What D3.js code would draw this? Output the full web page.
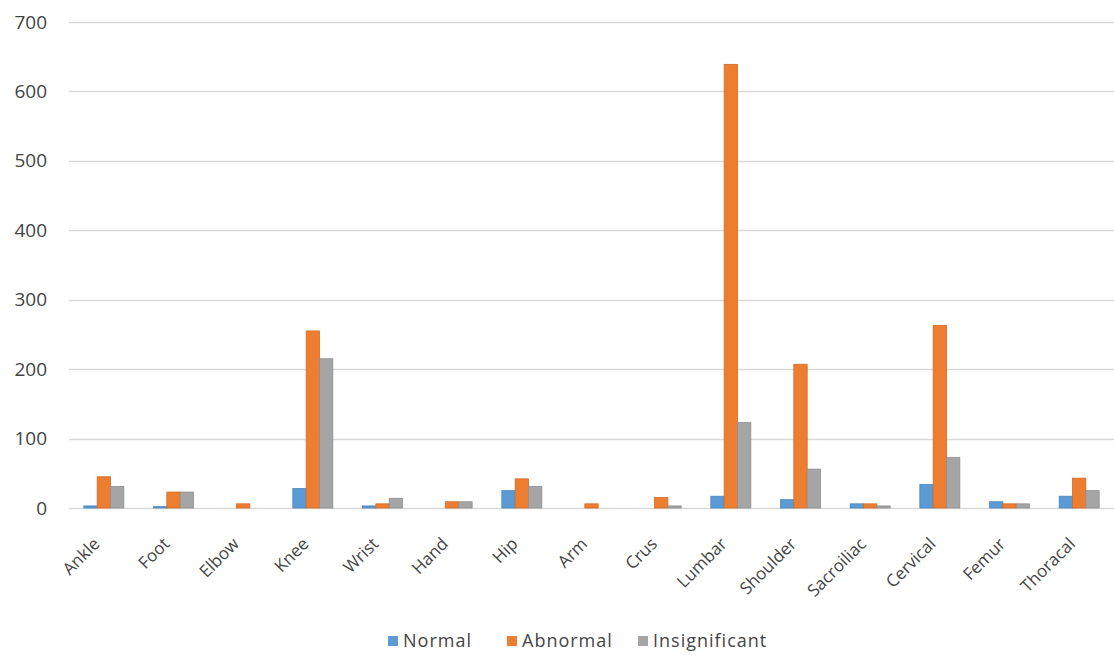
<!DOCTYPE html>
<html>
<head>
<meta charset="utf-8">
<script src="https://cdn.jsdelivr.net/npm/d3@7"></script>
<style>
  html, body { margin: 0; padding: 0; background: #fff; }
  svg { display: block; }
</style>
</head>
<body>
<svg id="chart" width="1114" height="655"></svg>
<script>
// Joint regions and examination counts per outcome
const categories = ["Ankle", "Foot", "Elbow", "Knee", "Wrist", "Hand", "Hip", "Arm", "Crus",
  "Lumbar", "Shoulder", "Sacroiliac", "Cervical", "Femur", "Thoracal"];
const seriesNames = ["Normal", "Abnormal", "Insignificant"];
const normal        = [3, 2, 0, 28, 3, 0, 25, 0, 0, 17, 12, 6, 34, 9, 17];
const abnormal      = [45, 23, 6, 255, 6, 9, 42, 6, 15, 639, 207, 6, 263, 6, 43];
const insignificant = [31, 23, 0, 215, 14, 9, 31, 0, 3, 123, 56, 3, 73, 6, 25];
const yTicks = [0, 100, 200, 300, 400, 500, 600, 700];

const colors = ["#5B9BD5", "#ED7D31", "#A5A5A5"];
const strokes = ["#4a86bd", "#d56a22", "#8f8f8f"];

const seriesValues = [normal, abnormal, insignificant];
const rows = categories.map((c, i) => ({
  category: c,
  values: seriesNames.map((s, k) => ({ key: s, k, value: seriesValues[k][i] }))
}));

const svg = d3.select("#chart");
const plotLeft = 69, plotRight = 1114, plotTop = 22, plotBottom = 508;

const y = d3.scaleLinear().domain([0, 700]).range([plotBottom, plotTop]);
const pad = 0.426;
const x = d3.scaleBand().domain(categories).range([plotLeft, plotRight])
  .paddingInner(pad).paddingOuter(pad / 2);
const xs = d3.scaleBand().domain(seriesNames).range([0, x.bandwidth()]);

// Horizontal gridlines
svg.append("g").selectAll("line").data(yTicks).join("line")
  .attr("x1", plotLeft).attr("x2", plotRight)
  .attr("y1", d => Math.round(y(d)) + 0.5).attr("y2", d => Math.round(y(d)) + 0.5)
  .attr("stroke", "#d9d9d9").attr("stroke-width", 1.3);

// Y axis labels
const yAxis = d3.axisLeft(y).tickValues(yTicks).tickSize(0).tickPadding(0);
const yg = svg.append("g").attr("transform", `translate(47,0)`).call(yAxis);
yg.select(".domain").remove();
yg.selectAll("text")
  .attr("font-family", "'Open Sans', sans-serif")
  .attr("font-size", 19)
  .attr("fill", "#444");

// Bars
const groups = svg.append("g").selectAll("g").data(rows).join("g")
  .attr("transform", d => `translate(${x(d.category)},0)`);
groups.selectAll("rect").data(d => d.values).join("rect")
  .attr("x", d => xs(d.key))
  .attr("width", xs.bandwidth())
  .attr("y", d => y(d.value))
  .attr("height", d => y(0) - y(d.value))
  .attr("fill", d => colors[d.k])
  .attr("stroke", d => strokes[d.k])
  .attr("stroke-width", 0.8);

// Category labels, rotated
const xAxis = d3.axisBottom(x).tickSize(0).tickPadding(0);
const xg = svg.append("g").attr("transform", `translate(0,${plotBottom})`).call(xAxis);
xg.select(".domain").remove();
xg.selectAll("text")
  .attr("font-family", "'Open Sans', sans-serif")
  .attr("font-size", 17)
  .attr("fill", "#444")
  .attr("text-anchor", "end")
  .attr("dy", null)
  .attr("transform", "translate(-3,37) rotate(-45)");

// Legend
const legend = svg.append("g").attr("transform", "translate(388,641)");
const legendX = [0, 119, 250];
seriesNames.forEach((s, k) => {
  const g = legend.append("g").attr("transform", `translate(${legendX[k]},0)`);
  g.append("rect").attr("x", 0).attr("y", -5).attr("width", 10).attr("height", 10)
    .attr("fill", colors[k]);
  g.append("text").attr("x", 15).attr("y", 0).attr("dy", "0.35em")
    .attr("font-family", "'Open Sans', sans-serif")
    .attr("font-size", 18)
    .attr("letter-spacing", 1)
    .attr("fill", "#444")
    .text(s);
});
</script>
</body>
</html>
